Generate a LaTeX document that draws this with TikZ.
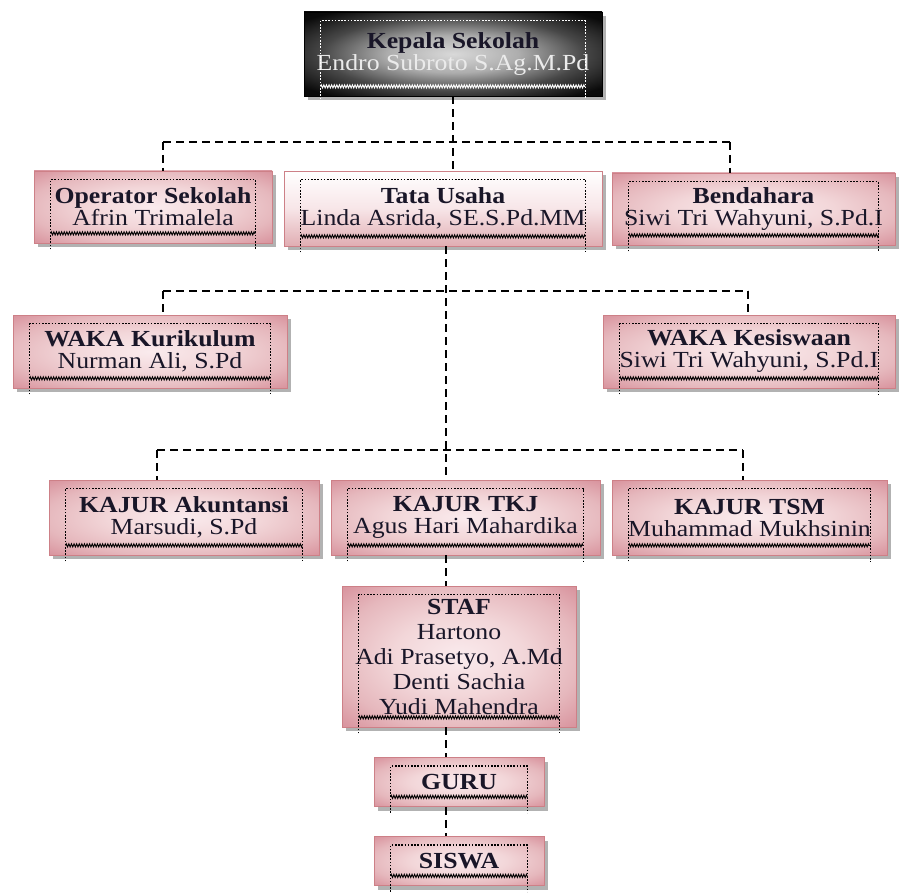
\documentclass[tikz,border=0pt]{standalone}
\usepackage{fontspec}
\setmainfont{Liberation Serif}[FakeStretch=1.12]
\usepackage{tikz}
\usetikzlibrary{calc,shadows,decorations.pathmorphing}

\definecolor{pinkline}{RGB}{205,128,135}
\definecolor{ink}{RGB}{25,22,40}

\pgfdeclareradialshading{pinkglow}{\pgfpoint{0bp}{0bp}}{%
  rgb(0bp)=(0.98,0.92,0.93); rgb(14bp)=(0.95,0.84,0.85); rgb(26bp)=(0.90,0.72,0.74); rgb(35bp)=(0.85,0.58,0.62); rgb(50bp)=(0.82,0.52,0.56)}
\pgfdeclareradialshading{darkglow}{\pgfpoint{0bp}{0bp}}{%
  rgb(0bp)=(0.85,0.85,0.85); rgb(11bp)=(0.68,0.68,0.68); rgb(22bp)=(0.28,0.28,0.28); rgb(32bp)=(0.04,0.04,0.04); rgb(50bp)=(0,0,0)}

\tikzset{
  unit/.style={draw=pinkline, line width=0.8pt, shading=pinkglow, inner sep=0pt,
    align=center, text=ink, font=\fontsize{23}{22}\selectfont,
    drop shadow={shadow xshift=4pt, shadow yshift=-4pt, fill=black, opacity=0.3}},
  pale/.style={unit, top color=white, bottom color={rgb,1:red,0.88;green,0.68;blue,0.70}, middle color={rgb,1:red,0.97;green,0.9;blue,0.91}},
  head/.style={unit, draw=black, shading=darkglow},
  link/.style={line width=1.8pt, dash pattern=on 8pt off 5pt}
}

% dotted text frame of a box: #1 colour, #2 node name
\newcommand{\dotframe}[2][black]{%
  \draw[#1, line width=1.6pt, dash pattern=on 1.6pt off 1.6pt] ($(#2.south west)+(17,6)$) |- ($(#2.north east)+(-17,9)$) -- ($(#2.south east)+(-17,6)$);
  \draw[#1, line width=0.9pt, decorate, decoration={zigzag, amplitude=1.6pt, segment length=2.6pt}]
    ($(#2.south west)+(17,-10)$) -- ($(#2.south east)+(-17,-10)$);}

\begin{document}
\begin{tikzpicture}[x=1pt, y=-1pt]
  \useasboundingbox (0,0) rectangle (905,896);

  \node (kepala) at (453,54)    [head, minimum width=298, minimum height=84] {\textbf{Kepala Sekolah}\\{\color{white!92!black}Endro Subroto S.Ag.M.Pd}};
  \node (op)     at (153,207)   [unit, minimum width=238, minimum height=72] {\textbf{Operator Sekolah}\\Afrin Trimalela};
  \node (tu)     at (443,208.5) [pale, minimum width=318, minimum height=75] {\textbf{Tata Usaha}\\Linda Asrida, SE.S.Pd.MM};
  \node (bend)   at (753.5,209) [unit, minimum width=283, minimum height=72] {\textbf{Bendahara}\\Siwi Tri Wahyuni, S.Pd.I};
  \node (wkur)   at (150,351.5) [unit, minimum width=274, minimum height=73] {\textbf{WAKA Kurikulum}\\Nurman Ali, S.Pd};
  \node (wkes)   at (749,351.5) [unit, minimum width=292, minimum height=73] {\textbf{WAKA Kesiswaan}\\Siwi Tri Wahyuni, S.Pd.I};
  \node (kak)    at (184,517.5) [unit, minimum width=270, minimum height=75] {\textbf{KAJUR Akuntansi}\\Marsudi, S.Pd};
  \node (ktkj)   at (465.5,517.5) [unit, minimum width=269, minimum height=75] {\textbf{KAJUR TKJ}\\Agus Hari Mahardika};
  \node (ktsm)   at (749.5,517.5) [unit, minimum width=275, minimum height=75] {\textbf{KAJUR TSM}\\Muhammad Mukhsinin};
  \node (staf)   at (459,656.5) [unit, minimum width=234, minimum height=141, font=\fontsize{23}{25}\selectfont] {\textbf{STAF}\\Hartono\\Adi Prasetyo, A.Md\\Denti Sachia\\Yudi Mahendra};
  \node (guru)   at (459,782)   [unit, minimum width=170, minimum height=49] {\textbf{GURU}};
  \node (siswa)  at (459,861)   [unit, minimum width=170, minimum height=49] {\textbf{SISWA}};

  \dotframe[white]{kepala}
  \dotframe{op}
  \dotframe{tu}
  \dotframe{bend}
  \dotframe{wkur}
  \dotframe{wkes}
  \dotframe{kak}
  \dotframe{ktkj}
  \dotframe{ktsm}
  \dotframe{staf}
  \dotframe{guru}
  \dotframe{siswa}

  % junctions of the dashed lines
  \coordinate (j1l) at (163,142);
  \coordinate (j1r) at (730,142);
  \coordinate (j2l) at (163,291);
  \coordinate (j2r) at (748,291);
  \coordinate (j3l) at (157,450);
  \coordinate (j3r) at (743,450);
  \coordinate (spine) at (446,291);

  \draw[link] (kepala.south) -- (kepala.south |- tu.north);
  \draw[link] (j1l) -- (j1r);
  \draw[link] (j1l) -- (j1l |- op.north);
  \draw[link] (j1r) -- (j1r |- bend.north);

  \draw[link] (spine |- tu.south) -- (spine |- ktkj.north);
  \draw[link] (j2l) -- (j2r);
  \draw[link] (j2l) -- (j2l |- wkur.north);
  \draw[link] (j2r) -- (j2r |- wkes.north);

  \draw[link] (j3l) -- (j3r);
  \draw[link] (j3l) -- (j3l |- kak.north);
  \draw[link] (j3r) -- (j3r |- ktsm.north);

  \draw[link] (spine |- ktkj.south) -- (spine |- staf.north);
  \draw[link] (spine |- staf.south) -- (spine |- guru.north);
  \draw[link] (spine |- guru.south) -- (spine |- siswa.north);
\end{tikzpicture}
\end{document}
